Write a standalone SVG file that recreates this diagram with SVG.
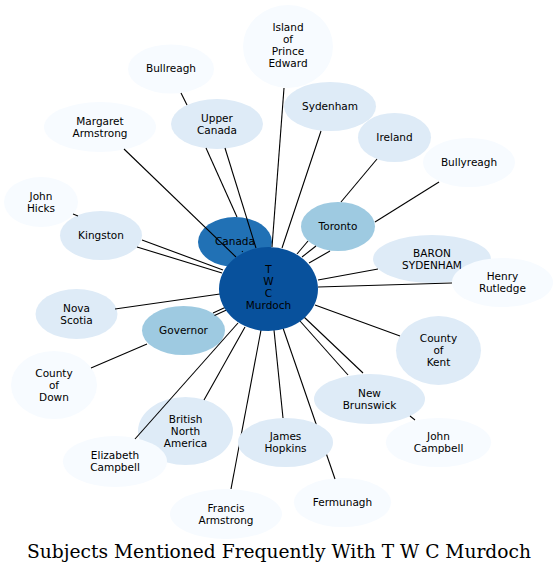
<svg xmlns="http://www.w3.org/2000/svg" width="558" height="574" viewBox="0 0 558 574">
<style>
.n0{fill:#f7fbff}
.n1{fill:#deebf7}
.n2{fill:#9ecae1}
.n3{fill:#2171b5}
.n4{fill:#08519c}
text{font-family:"DejaVu Sans","Liberation Sans",sans-serif;font-size:10.5px;fill:#000;text-anchor:middle}
#edges line{stroke:#000;stroke-width:1.1}
.title{font-family:"DejaVu Serif","Liberation Serif",serif;font-size:18.65px}
</style>
<rect width="558" height="574" fill="#fff"/>
<g id="n_ipe"><ellipse class="n0" cx="288" cy="46.5" rx="45" ry="41.5"/><text x="288" y="31">Island</text><text x="288" y="43">of</text><text x="288" y="55">Prince</text><text x="288" y="67">Edward</text></g>
<g id="n_bullreagh"><ellipse class="n0" cx="171" cy="69" rx="43" ry="24.5"/><text x="171" y="72">Bullreagh</text></g>
<g id="n_sydenham"><ellipse class="n1" cx="330" cy="106.5" rx="46" ry="24.5"/><text x="330" y="109.5">Sydenham</text></g>
<g id="n_ireland"><ellipse class="n1" cx="394.5" cy="137.5" rx="36.5" ry="24.5"/><text x="394.5" y="140.5">Ireland</text></g>
<g id="n_uppercanada"><ellipse class="n1" cx="217" cy="124" rx="46" ry="25"/><text x="217" y="121.5">Upper</text><text x="217" y="133.5">Canada</text></g>
<g id="n_margaret"><ellipse class="n0" cx="100" cy="127" rx="56" ry="25"/><text x="100" y="124.5">Margaret</text><text x="100" y="136.5">Armstrong</text></g>
<g id="n_bullyreagh"><ellipse class="n0" cx="469" cy="162.5" rx="46" ry="24.5"/><text x="469" y="165.5">Bullyreagh</text></g>
<g id="n_johnhicks"><ellipse class="n0" cx="41" cy="202" rx="37" ry="25"/><text x="41" y="199.5">John</text><text x="41" y="211.5">Hicks</text></g>
<g id="n_kingston"><ellipse class="n1" cx="101" cy="235.5" rx="41" ry="24.5"/><text x="101" y="238.5">Kingston</text></g>
<g id="n_toronto"><ellipse class="n2" cx="338" cy="226.5" rx="37" ry="24.5"/><text x="338" y="229.5">Toronto</text></g>
<g id="n_canada"><ellipse class="n3" cx="235" cy="242" rx="37" ry="25"/><text x="235" y="245">Canada</text></g>
<g id="n_baron"><ellipse class="n1" cx="432" cy="259" rx="59" ry="24"/><text x="432" y="256.5">BARON</text><text x="432" y="268.5">SYDENHAM</text></g>
<g id="n_henry"><ellipse class="n0" cx="502.5" cy="282.5" rx="50.5" ry="24.5"/><text x="502.5" y="280">Henry</text><text x="502.5" y="292">Rutledge</text></g>
<g id="n_novascotia"><ellipse class="n1" cx="76.5" cy="314" rx="41" ry="25"/><text x="76.5" y="311.5">Nova</text><text x="76.5" y="323.5">Scotia</text></g>
<g id="n_governor"><ellipse class="n2" cx="183.5" cy="330.5" rx="41.5" ry="24.5"/><text x="183.5" y="333.5">Governor</text></g>
<g id="n_kent"><ellipse class="n1" cx="438.5" cy="350.5" rx="42.5" ry="34.5"/><text x="438.5" y="342">County</text><text x="438.5" y="354">of</text><text x="438.5" y="366">Kent</text></g>
<g id="n_down"><ellipse class="n0" cx="54" cy="385" rx="43" ry="34"/><text x="54" y="376.5">County</text><text x="54" y="388.5">of</text><text x="54" y="400.5">Down</text></g>
<g id="n_newbrunswick"><ellipse class="n1" cx="369.5" cy="399" rx="55.5" ry="25"/><text x="369.5" y="396.5">New</text><text x="369.5" y="408.5">Brunswick</text></g>
<g id="n_bna"><ellipse class="n1" cx="185.5" cy="431" rx="47.5" ry="34"/><text x="185.5" y="422.5">British</text><text x="185.5" y="434.5">North</text><text x="185.5" y="446.5">America</text></g>
<g id="n_johncampbell"><ellipse class="n0" cx="438.5" cy="442.5" rx="52.5" ry="24.5"/><text x="438.5" y="440">John</text><text x="438.5" y="452">Campbell</text></g>
<g id="n_elizabeth"><ellipse class="n0" cx="115" cy="461.5" rx="52" ry="25.5"/><text x="115" y="459">Elizabeth</text><text x="115" y="471">Campbell</text></g>
<g id="n_fermunagh"><ellipse class="n0" cx="342.5" cy="502.5" rx="48.5" ry="24.5"/><text x="342.5" y="505.5">Fermunagh</text></g>
<g id="n_francis"><ellipse class="n0" cx="226" cy="514" rx="56" ry="25"/><text x="226" y="511.5">Francis</text><text x="226" y="523.5">Armstrong</text></g>
<g id="edges">
<line x1="181" y1="93" x2="187" y2="105"/>
<line x1="206" y1="148" x2="237" y2="217"/>
<line x1="225" y1="148" x2="256" y2="248"/>
<line x1="124" y1="149" x2="236" y2="257"/>
<line x1="73" y1="214" x2="78" y2="216"/>
<line x1="142" y1="240" x2="223" y2="270"/>
<line x1="137" y1="247" x2="222" y2="273"/>
<line x1="284" y1="88" x2="272" y2="247"/>
<line x1="321" y1="131" x2="282" y2="248"/>
<line x1="377" y1="159" x2="341" y2="202"/>
<line x1="439" y1="182" x2="375" y2="222"/>
<line x1="308" y1="241" x2="297" y2="254"/>
<line x1="316" y1="246" x2="302" y2="257"/>
<line x1="330" y1="251" x2="309" y2="263"/>
<line x1="378" y1="269" x2="318" y2="280"/>
<line x1="452" y1="283" x2="318" y2="287"/>
<line x1="400" y1="336" x2="315" y2="305"/>
<line x1="348" y1="375" x2="300" y2="321"/>
<line x1="363" y1="373" x2="304" y2="317"/>
<line x1="410" y1="416" x2="415" y2="420"/>
<line x1="283" y1="418" x2="274" y2="330"/>
<line x1="335" y1="479" x2="283" y2="328"/>
<line x1="231" y1="489" x2="261" y2="330"/>
<line x1="204" y1="400" x2="245" y2="327"/>
<line x1="135" y1="439" x2="238" y2="323"/>
<line x1="213" y1="313" x2="225" y2="307.5"/>
<line x1="214.5" y1="315.5" x2="226.5" y2="310"/>
<line x1="147" y1="344" x2="91" y2="368"/>
<line x1="115" y1="309" x2="220" y2="294"/>
<line x1="242" y1="251" x2="242.7" y2="252"/>
</g>
<g id="n_james"><ellipse class="n1" cx="285.5" cy="442.5" rx="47.5" ry="24.5"/><text x="285.5" y="440">James</text><text x="285.5" y="452">Hopkins</text></g>
<g id="n_murdoch"><ellipse class="n4" cx="268.5" cy="289" rx="49.5" ry="42"/><text x="268.5" y="273">T</text><text x="268.5" y="285">W</text><text x="268.5" y="297">C</text><text x="268.5" y="309">Murdoch</text></g>
<text class="title" x="279" y="558">Subjects Mentioned Frequently With T W C Murdoch</text>
</svg>
